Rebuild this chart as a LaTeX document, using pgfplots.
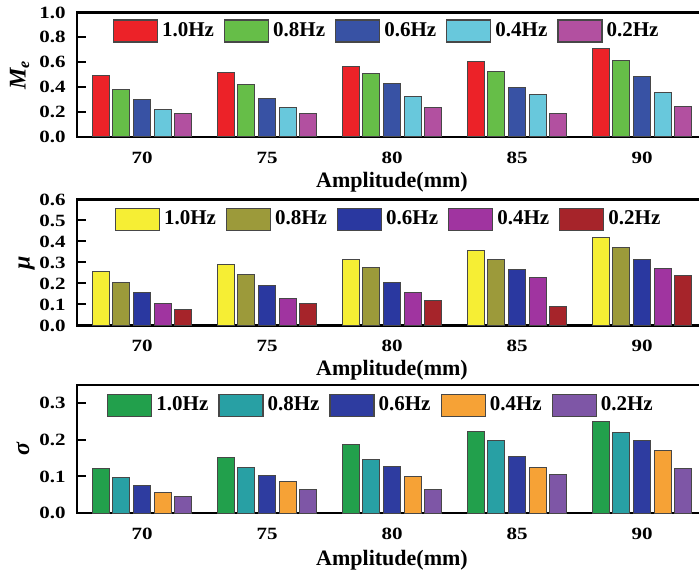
\documentclass[border=0pt]{standalone}
\usepackage{fontspec}
\setmainfont{Liberation Serif}
\usepackage{pgfplots}
\pgfplotsset{compat=1.18}
\definecolor{aR}{RGB}{236,34,40}
\definecolor{aG}{RGB}{102,190,72}
\definecolor{aB}{RGB}{56,82,164}
\definecolor{aC}{RGB}{104,200,220}
\definecolor{aM}{RGB}{178,80,160}
\definecolor{bY}{RGB}{246,238,52}
\definecolor{bO}{RGB}{156,154,58}
\definecolor{bB}{RGB}{42,56,160}
\definecolor{bM}{RGB}{160,52,160}
\definecolor{bR}{RGB}{166,36,42}
\definecolor{cG}{RGB}{34,160,76}
\definecolor{cT}{RGB}{40,160,164}
\definecolor{cB}{RGB}{46,60,160}
\definecolor{cO}{RGB}{246,162,54}
\definecolor{cP}{RGB}{126,86,166}
\newcommand{\tf}{\fontsize{10.5}{12}\selectfont\bfseries}
\newcommand{\kf}{\fontsize{8.6}{10}\selectfont\bfseries}
\pgfplotsset{
  panel/.style={
    scale only axis, width=315pt,
    xmin=-0.52, xmax=4.52, ymin=0,
    ybar=1.8pt, bar width=8.5pt,
    xtick={0,1,2,3,4}, xticklabels={70,75,80,85,90},
    xtick pos=bottom, ytick pos=left,
    x tick style={draw=none},
    axis line style={line width=1.2pt},
    y tick style={line width=1pt, black},
    tick align=inside, major tick length=4.5pt,
    /pgf/number format/assume math mode=true,
    yticklabel style={font=\kf, xscale=1.22, xshift=-1.1pt,
      /pgf/number format/fixed, /pgf/number format/fixed zerofill,
      /pgf/number format/precision=1},
    xticklabel style={font=\kf, xscale=1.22, yshift=-3.9pt},
    xlabel={Amplitude(mm)},
    xlabel style={font=\fontsize{11}{13}\selectfont\bfseries, at={(axis description cs:0.5,0)}, anchor=center, yshift=-22.5pt},
    ylabel style={font=\fontsize{12}{14}\selectfont\bfseries\itshape, anchor=center},
    legend columns=5,
    legend style={draw=none, fill=none, inner sep=0pt, outer sep=0pt, anchor=west, font=\tf,
      /tikz/every even column/.append style={column sep=3pt}},
    legend image code/.code={\draw[#1, line width=0.6pt] (0pt,-5.5pt) rectangle (22pt,5.5pt);},
  },
  bstyle/.style={fill=#1, draw=black!72, line width=0.5pt},
}
\begin{document}
\begin{tikzpicture}
\path[use as bounding box] (0,0) rectangle (349.5pt,285.5pt);
\clip (0,0) rectangle (349.5pt,285.5pt);
% ---------- top panel ----------
\begin{axis}[panel, at={(38.5pt,217pt)}, anchor=south west, height=62.25pt,
  ymax=1.0, ytick={0,0.2,0.4,0.6,0.8,1},
  ylabel={M\textsubscript{e}}, ylabel style={at={(axis description cs:-0.091,0.5)}},
  legend style={at={(axis description cs:0.057,0.851)}}]
\addplot[bstyle=aR] coordinates {(0,0.490) (1,0.516) (2,0.570) (3,0.610) (4,0.708)};
\addplot[bstyle=aG] coordinates {(0,0.385) (1,0.420) (2,0.506) (3,0.525) (4,0.618)};
\addplot[bstyle=aB] coordinates {(0,0.298) (1,0.308) (2,0.426) (3,0.396) (4,0.484)};
\addplot[bstyle=aC] coordinates {(0,0.218) (1,0.238) (2,0.327) (3,0.343) (4,0.360)};
\addplot[bstyle=aM] coordinates {(0,0.190) (1,0.187) (2,0.238) (3,0.190) (4,0.246)};
\legend{1.0Hz,0.8Hz,0.6Hz,0.4Hz,0.2Hz}
\end{axis}
% ---------- middle panel ----------
\begin{axis}[panel, at={(38.5pt,122.75pt)}, anchor=south west, height=63pt,
  ymax=0.6, ytick={0,0.1,0.2,0.3,0.4,0.5,0.6},
  ylabel={μ}, ylabel style={at={(axis description cs:-0.080,0.5)}},
  legend style={at={(axis description cs:0.060,0.844)}}]
\addplot[bstyle=bY] coordinates {(0,0.256) (1,0.290) (2,0.314) (3,0.357) (4,0.420)};
\addplot[bstyle=bO] coordinates {(0,0.207) (1,0.243) (2,0.278) (3,0.316) (4,0.371)};
\addplot[bstyle=bB] coordinates {(0,0.159) (1,0.191) (2,0.205) (3,0.268) (4,0.316)};
\addplot[bstyle=bM] coordinates {(0,0.107) (1,0.128) (2,0.159) (3,0.227) (4,0.270)};
\addplot[bstyle=bR] coordinates {(0,0.076) (1,0.104) (2,0.117) (3,0.090) (4,0.238)};
\legend{1.0Hz,0.8Hz,0.6Hz,0.4Hz,0.2Hz}
\end{axis}
% ---------- bottom panel ----------
\begin{axis}[panel, at={(38.5pt,29pt)}, anchor=south west, height=64pt,
  ymax=0.35, ytick={0,0.1,0.2,0.3},
  xlabel style={yshift=-1pt},
  ylabel={σ}, ylabel style={at={(axis description cs:-0.086,0.5)}},
  legend style={at={(axis description cs:0.048,0.84)}}]
\addplot[bstyle=cG] coordinates {(0,0.121) (1,0.152) (2,0.186) (3,0.224) (4,0.250)};
\addplot[bstyle=cT] coordinates {(0,0.098) (1,0.124) (2,0.145) (3,0.197) (4,0.221)};
\addplot[bstyle=cB] coordinates {(0,0.074) (1,0.103) (2,0.127) (3,0.155) (4,0.198)};
\addplot[bstyle=cO] coordinates {(0,0.057) (1,0.085) (2,0.099) (3,0.125) (4,0.172)};
\addplot[bstyle=cP] coordinates {(0,0.046) (1,0.063) (2,0.065) (3,0.105) (4,0.122)};
\legend{1.0Hz,0.8Hz,0.6Hz,0.4Hz,0.2Hz}
\end{axis}
\end{tikzpicture}
\end{document}
